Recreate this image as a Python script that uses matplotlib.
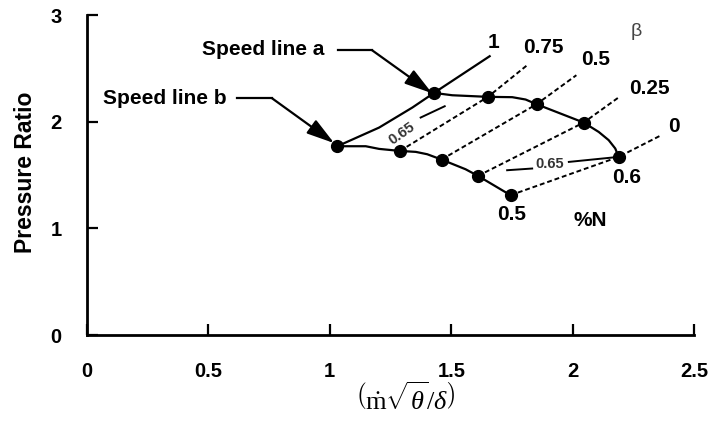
import matplotlib
matplotlib.use("Agg")
import matplotlib.pyplot as plt

plt.rcParams['font.family'] = ['Liberation Sans', 'DejaVu Sans']
plt.rcParams['font.weight'] = 'bold'
plt.rcParams['mathtext.fontset'] = 'custom'
plt.rcParams['mathtext.rm'] = 'Liberation Serif:weight=normal'
plt.rcParams['mathtext.it'] = 'Liberation Serif:italic:weight=normal'

# beta values of the R-lines
beta_labels = ["1", "0.75", "0.5", "0.25", "0"]

# map points on speed line a (upper) and speed line b (lower), one per beta
pts_a_x = [1.429, 1.651, 1.851, 2.045, 2.189]
pts_a_y = [2.271, 2.234, 2.165, 1.993, 1.671]
pts_b_x = [1.031, 1.289, 1.460, 1.610, 1.744]
pts_b_y = [1.771, 1.727, 1.646, 1.493, 1.312]

# where each beta line stops beyond speed line a
beta_end_x = [1.658, 1.812, 2.015, 2.186, 2.364]
beta_end_y = [2.615, 2.530, 2.437, 2.224, 1.874]

# speed line a traced through its map points
line_a_x = [1.429, 1.504, 1.651, 1.751, 1.806, 1.851, 2.045, 2.107, 2.148, 2.175, 2.189]
line_a_y = [2.271, 2.249, 2.234, 2.231, 2.209, 2.165, 1.993, 1.905, 1.828, 1.750, 1.671]

# speed line b traced through its map points
line_b_x = [1.031, 1.148, 1.203, 1.289, 1.354, 1.401, 1.460, 1.559, 1.610, 1.744]
line_b_y = [1.771, 1.771, 1.746, 1.727, 1.718, 1.696, 1.646, 1.555, 1.493, 1.312]

# beta = 1 line is solid and slightly bowed between the two speed lines
beta1_x = [1.031, 1.203, 1.340, 1.429, 1.658]
beta1_y = [1.771, 1.946, 2.134, 2.271, 2.615]

# interpolated 0.65 speed line pieces
n065_left_x = [1.374, 1.473]
n065_left_y = [2.040, 2.146]
n065_right_x = [[1.730, 1.833], [1.984, 2.189]]
n065_right_y = [[1.546, 1.562], [1.624, 1.671]]

# label offsets (points) for the beta labels
beta_label_off = [(3, 10), (12, 13), (14, 11), (23, 7), (9, 6)]

fig = plt.figure(figsize=(7.12, 4.21), dpi=100)
ax = fig.add_axes([0.122, 0.204, 0.853, 0.760])

lw = 1.6
ax.plot(line_a_x, line_a_y, color='black', lw=lw)
ax.plot(line_b_x, line_b_y, color='black', lw=lw)
ax.plot(beta1_x, beta1_y, color='black', lw=lw)

for i in range(1, len(beta_labels)):
    ax.plot([pts_b_x[i], pts_a_x[i], beta_end_x[i]],
            [pts_b_y[i], pts_a_y[i], beta_end_y[i]],
            color='black', lw=1.4, ls=(0, (2.5, 1.5)))

for i, lab in enumerate(beta_labels):
    ax.annotate(lab, (beta_end_x[i], beta_end_y[i]),
                xytext=beta_label_off[i], textcoords='offset points',
                ha='center', va='center', fontsize=15)

ax.plot(pts_a_x, pts_a_y, 'o', color='black', ms=8.5)
ax.plot(pts_b_x, pts_b_y, 'o', color='black', ms=8.5)

# 0.65 speed line
ax.plot(n065_left_x, n065_left_y, color='black', lw=1.4)
for xs, ys in zip(n065_right_x, n065_right_y):
    ax.plot(xs, ys, color='black', lw=1.4)
ax.text(1.296, 1.890, "0.65", fontsize=10.5, rotation=35,
        ha='center', va='center', color='#333333')
ax.text(1.906, 1.606, "0.65", fontsize=10.5, ha='center', va='center',
        color='#333333')

# speed labels
ax.annotate("0.6", (pts_a_x[-1], pts_a_y[-1]), xytext=(6, -15),
            textcoords='offset points', ha='center', va='center', fontsize=15)
ax.annotate("0.5", (pts_b_x[-1], pts_b_y[-1]), xytext=(1, -14),
            textcoords='offset points', ha='center', va='center', fontsize=15)
ax.text(2.073, 1.078, "%N", fontsize=15, ha='center', va='center')
ax.text(2.262, 2.843, "β", fontsize=14, fontweight='normal',
        ha='center', va='center', color='#444444')

# speed line call-outs
arrow = dict(arrowstyle='-|>,head_length=1.7,head_width=0.5',
             color='black', lw=1.6, shrinkA=0, shrinkB=0)
ax.text(0.727, 2.680, "Speed line a", fontsize=15, ha='center', va='center')
ax.plot([1.034, 1.174], [2.671, 2.671], color='black', lw=1.6)
ax.annotate("", xy=(1.421, 2.268), xytext=(1.174, 2.671),
            arrowprops=arrow)
ax.text(0.319, 2.221, "Speed line b", fontsize=15, ha='center', va='center')
ax.plot([0.616, 0.762], [2.221, 2.221], color='black', lw=1.6)
ax.annotate("", xy=(1.018, 1.800), xytext=(0.762, 2.221),
            arrowprops=arrow)

ax.set_xlim(0, 2.5)
ax.set_ylim(0, 3)
ax.set_xticks([0, 0.5, 1, 1.5, 2, 2.5])
ax.set_xticklabels(["0", "0.5", "1", "1.5", "2", "2.5"])
ax.set_yticks([0, 1, 2, 3])
ax.spines['top'].set_visible(False)
ax.spines['right'].set_visible(False)
for s in ('left', 'bottom'):
    ax.spines[s].set_linewidth(2)
ax.tick_params(direction='in', length=8, width=1.6, labelsize=14.5)
ax.tick_params(axis='x', pad=19)
ax.tick_params(axis='y', pad=18)
ax.set_ylabel("Pressure Ratio", fontsize=16.5, fontweight='bold')
ax.yaxis.set_label_coords(-0.082, 0.51)

fig.text(0.569, 0.054, r"$\left(\dot{\mathrm{m}}\sqrt{\theta}/\delta\right)$",
         fontsize=19, fontweight='normal', ha='center', va='center')

fig.savefig("out.png", dpi=100)
